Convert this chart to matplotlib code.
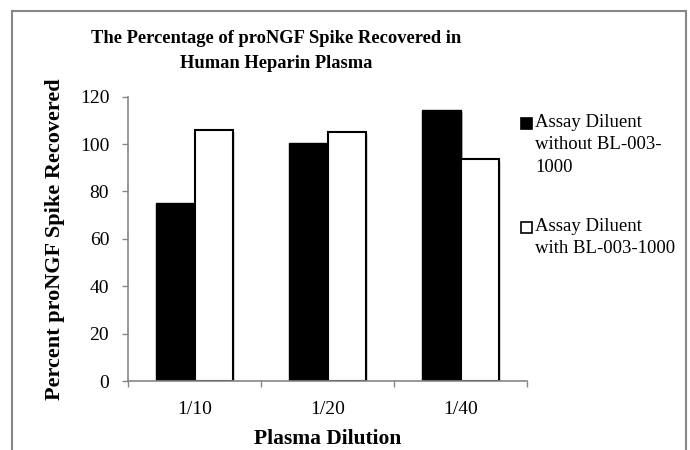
import matplotlib
matplotlib.use("Agg")
import matplotlib.pyplot as plt
import matplotlib.patheffects as pe
from matplotlib.patches import Rectangle
import numpy as np

plt.rcParams["font.family"] = ["Liberation Serif", "DejaVu Serif"]

dilutions = ["1/10", "1/20", "1/40"]
without_bl = [75, 100.5, 114.5]
with_bl = [106, 105, 93.5]
series_names = ["Assay Diluent\nwithout BL-003-\n1000", "Assay Diluent\nwith BL-003-1000"]
series_colors = ["black", "white"]

axis_grey = "#868686"
W, H = 690, 450

fig = plt.figure(figsize=(6.9, 4.5), dpi=100)
ax = fig.add_axes([128 / W, 1 - 381 / H, 399 / W, 284.3 / H])

# chart area border like the Excel frame
fig.patches.append(Rectangle((12 / W, -0.05), 674 / W, 1.05 - 11 / H,
                             transform=fig.transFigure, fill=False,
                             edgecolor=axis_grey, linewidth=1.5))

x = np.arange(len(dilutions))
w = 0.29
shadow = [pe.SimplePatchShadow(offset=(1.5, -1.5), alpha=0.2), pe.Normal()]
b1 = ax.bar(x - w / 2, without_bl, w, color=series_colors[0], edgecolor="black",
            linewidth=1)
b2 = ax.bar(x + w / 2, with_bl, w, color=series_colors[1], edgecolor="black",
            linewidth=1.5)
for b in list(b1) + list(b2):
    b.set_path_effects(shadow)

ax.set_xlim(-0.5, 2.5)
ax.set_ylim(0, 120)
ax.set_yticks(range(0, 121, 20))
ax.set_xticks(x)
ax.set_xticklabels(dilutions, fontsize=14)
ax.set_xticks([-0.5, 0.5, 1.5, 2.5], minor=True)
ax.tick_params(axis="x", which="major", length=0, pad=14.5)
ax.tick_params(axis="x", which="minor", length=4.5, color=axis_grey, width=1)
ax.tick_params(axis="y", labelsize=14, length=4.5, color=axis_grey, width=1, pad=9)

for s in ["top", "right"]:
    ax.spines[s].set_visible(False)
for s in ["left", "bottom"]:
    ax.spines[s].set_color(axis_grey)
    ax.spines[s].set_linewidth(1.2)

ax.set_xlabel("Plasma Dilution", fontsize=15.5, fontweight="bold", va="center")
ax.xaxis.set_label_coords(0.5, -58 / 284.3)
ax.set_ylabel("Percent proNGF Spike Recovered", fontsize=16, fontweight="bold",
              va="center")
ax.yaxis.set_label_coords((55 - 128) / 399, 0.5)

title_lines = ["The Percentage of proNGF Spike Recovered in", "Human Heparin Plasma"]
for line, yb in zip(title_lines, [43, 68]):
    fig.text(276 / W, 1 - yb / H, line, ha="center", va="baseline",
             fontsize=13.3, fontweight="bold")

# legend: square beside the first line of each entry, as in Excel
for name, col, ytop in zip(series_names, series_colors, [118, 222]):
    fig.patches.append(Rectangle((521 / W, 1 - (ytop + 11) / H), 11 / W, 11 / H,
                                 transform=fig.transFigure, facecolor=col,
                                 edgecolor="black", linewidth=1.2))
    fig.text(535 / W, 1 - (ytop - 4) / H, name, ha="left", va="top",
             fontsize=13.5, linespacing=1.42)

fig.savefig("out.png", dpi=100)
